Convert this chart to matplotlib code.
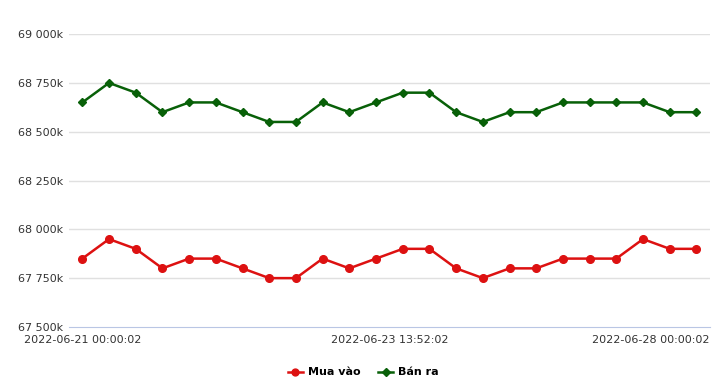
import matplotlib.pyplot as plt
from matplotlib.ticker import FuncFormatter
import matplotlib.transforms as mtransforms

# prices in thousands
mua_vao = [67850, 67950, 67900, 67800, 67850, 67850, 67800, 67750, 67750, 67850, 67800, 67850,
           67900, 67900, 67800, 67750, 67800, 67800, 67850, 67850, 67850, 67950, 67900, 67900]
ban_ra = [68650, 68750, 68700, 68600, 68650, 68650, 68600, 68550, 68550, 68650, 68600, 68650,
          68700, 68700, 68600, 68550, 68600, 68600, 68650, 68650, 68650, 68650, 68600, 68600]
tick_pos = [0, 11.5, 23]
tick_labels = ['2022-06-21 00:00:02', '2022-06-23 13:52:02', '2022-06-28 00:00:02']

plt.rcParams['font.family'] = ['DejaVu Sans']

fig = plt.figure(figsize=(7.2, 3.92), dpi=100)
ax = fig.add_axes([0.0958, 0.166, 0.89, 0.747])

x = list(range(len(mua_vao)))
l1, = ax.plot(x, mua_vao, color='#dd1111', marker='o', markersize=5.5, linewidth=1.8, label='Mua vào')
l2, = ax.plot(x, ban_ra, color='#086008', marker='D', markersize=4.5, linewidth=1.8, label='Bán ra')

ax.set_xlim(-0.5, 23.5)
ax.set_ylim(67500, 69000)
ax.set_yticks([67750, 68000, 68250, 68500, 68750, 69000])
ax.set_yticks([67500], minor=True)
ax.yaxis.set_major_formatter(FuncFormatter(lambda v, p: '{:,}k'.format(int(v)).replace(',', ' ')))
ax.yaxis.set_minor_formatter(FuncFormatter(lambda v, p: '{:,}k'.format(int(v)).replace(',', ' ')))
ax.grid(axis='y', which='major', color='#e0e0e0', linewidth=1)
ax.set_axisbelow(True)
for s in ['top', 'right', 'left']:
    ax.spines[s].set_visible(False)
ax.spines['bottom'].set_color('#b9c6e4')
ax.tick_params(axis='y', which='both', length=0, labelsize=8, labelcolor='#333333', pad=4)
ax.tick_params(axis='x', length=0, labelsize=8, labelcolor='#333333', pad=6)
ax.set_xticks(tick_pos)
ax.set_xticklabels(tick_labels)
last = ax.get_xticklabels()[-1]
last.set_ha('right')
last.set_transform(last.get_transform() + mtransforms.ScaledTranslation(13 / 100, 0, fig.dpi_scale_trans))

fig.legend(handles=[l1, l2], loc='center', bbox_to_anchor=(0.505, 0.05), ncol=2, frameon=False,
           prop={'size': 8, 'weight': 'bold'}, handlelength=1.3, handletextpad=0.5,
           columnspacing=1.6, markerscale=0.9)

fig.savefig('out.png', dpi=100)
